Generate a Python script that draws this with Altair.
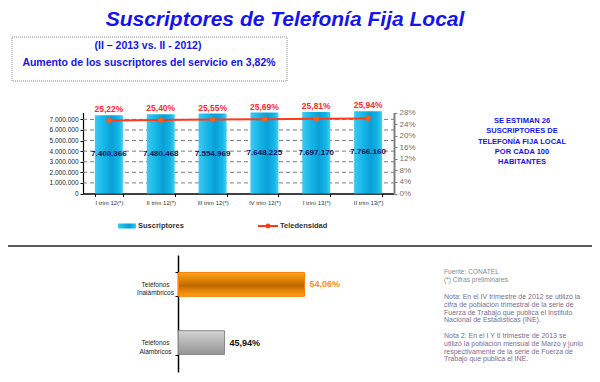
import altair as alt
import pandas as pd

# ---------------- data ----------------
title_text = "Suscriptores de Telefonía Fija Local"
box_lines = ["(II – 2013 vs. II - 2012)", "Aumento de los suscriptores del servicio en 3,82%"]

periods = ["I trim 12(*)", "II trim 12(*)", "III trim 12(*)", "IV trim 12(*)", "I trim 13(*)", "II trim 13(*)"]
subscribers = [7400366, 7480468, 7554969, 7648225, 7697170, 7766160]
teledensity = [25.22, 25.40, 25.55, 25.69, 25.81, 25.94]
left_ticks = [0, 1000000, 2000000, 3000000, 4000000, 5000000, 6000000, 7000000]
right_ticks = [0, 4, 8, 12, 16, 20, 24, 28]
legend_labels = ["Suscriptores", "Teledensidad"]

side_lines = ["SE ESTIMAN 26", "SUSCRIPTORES DE", "TELEFONÍA FIJA LOCAL", "POR CADA 100", "HABITANTES"]

mix_categories = ["Teléfonos Inalámbricos", "Teléfonos Alámbricos"]
mix_shares = [54.06, 45.94]

source_lines = ["Fuente: CONATEL", "(*) Cifras preliminares."]
note1_lines = [
    "Nota: En el IV trimestre de 2012 se utilizó la",
    "cifra de población trimestral de la serie de",
    "Fuerza de Trabajo que publica el Instituto",
    "Nacional de Estadísticas (INE).",
]
note2_lines = [
    "Nota 2: En el I Y II trimestre de 2013 se",
    "utilizó la población mensual de Marzo y junio",
    "respectivamente de la serie de Fuerza de",
    "Trabajo que publica el INE.",
]

# ---------------- layout (chart pixel coords; page = chart + 8) ----------------
W, H = 584, 366
X0, X1 = 75, 386
YB, YT = 185.5, 104.5
FONT = "Liberation Sans"
BLUE = "#1414f0"

df_top = pd.DataFrame({"period": periods, "subs": subscribers, "tele": teledensity})
df_mix = pd.DataFrame({"cat": mix_categories, "share": mix_shares})

xs = alt.Scale(domain=periods, range=[X0, X1], paddingInner=0.46, paddingOuter=0.23)
ys = alt.Scale(domain=[0, 7650000], range=[YB, YT])
yt = alt.Scale(domain=[0, 28], range=[YB, YT])

bar_grad = alt.LinearGradient(
    gradient="linear", x1=0, x2=1, y1=0, y2=0,
    stops=[
        alt.GradientStop(color="#3ccaf2", offset=0),
        alt.GradientStop(color="#12b4e6", offset=0.35),
        alt.GradientStop(color="#0a9fd6", offset=0.6),
        alt.GradientStop(color="#14b6e8", offset=0.85),
        alt.GradientStop(color="#42d0f6", offset=1),
    ],
)


def txt(s, x, y, **kw):
    base = dict(font=FONT)
    base.update(kw)
    return alt.Chart(pd.DataFrame({"t": [s]})).mark_text(**base).encode(
        text="t:N", x=alt.value(x), y=alt.value(y)
    )


def block(lines, x, y, **kw):
    base = dict(font=FONT, lineBreak="\n", align="left", baseline="middle")
    base.update(kw)
    return alt.Chart(pd.DataFrame({"t": ["\n".join(lines)]})).mark_text(**base).encode(
        text="t:N", x=alt.value(x), y=alt.value(y)
    )


layers = []

# title
layers.append(txt(title_text, 277, 17.5, fontSize=21, fontWeight="bold", fontStyle="italic",
                  color=BLUE, baseline="alphabetic"))

# dotted box
layers.append(
    alt.Chart(pd.DataFrame({"a": [0]})).mark_rect(fill="white", stroke="#888888", strokeWidth=1,
                                                 strokeDash=[1, 1]).encode(
        x=alt.value(4), x2=alt.value(279), y=alt.value(29), y2=alt.value(73)
    )
)
layers.append(txt(box_lines[0], 140, 38, fontSize=10.5, fontWeight="bold", color=BLUE, baseline="middle"))
layers.append(txt(box_lines[1], 141, 55, fontSize=10.5, fontWeight="bold", color=BLUE, baseline="middle"))

# gridlines
layers.append(
    alt.Chart(pd.DataFrame({"v": left_ticks[1:]})).mark_rule(color="#7a7a7a", strokeDash=[4, 3],
                                                            strokeWidth=1).encode(
        y=alt.Y("v:Q", scale=ys, axis=None), x=alt.value(X0), x2=alt.value(X1)
    )
)

# bars with axes
layers.append(
    alt.Chart(df_top).mark_bar(color=bar_grad).encode(
        x=alt.X("period:N", scale=xs, title=None,
                axis=alt.Axis(orient="bottom", offset=YB - H, labelAngle=0, labelFontSize=6,
                              labelColor="#333333", labelFont=FONT, tickBand="extent", tickSize=3,
                              tickColor="#000000", domainColor="#000000", domainWidth=1.5,
                              labelPadding=3, grid=False)),
        y=alt.Y("subs:Q", scale=ys, title=None,
                axis=alt.Axis(orient="left", offset=-X0, values=left_ticks,
                              labelExpr="replace(replace(format(datum.value, ','), ',', '.'), ',', '.')",
                              labelFontSize=6.5, labelColor="#222222", labelFont=FONT, tickSize=3,
                              tickColor="#000000", domainColor="#000000", domainWidth=1.2,
                              labelPadding=2, grid=False)),
    )
)

# subscriber value labels
layers.append(
    alt.Chart(df_top).transform_calculate(
        mid="datum.subs / 2",
        lab="replace(replace(format(datum.subs, ','), ',', '.'), ',', '.')",
    ).mark_text(font=FONT, fontSize=8, fontWeight="bold", color="#10105a", baseline="middle").encode(
        x=alt.X("period:N", scale=xs, axis=None),
        y=alt.Y("mid:Q", scale=ys, axis=None),
        text="lab:N",
    )
)

# teledensity line
layers.append(
    alt.Chart(df_top).mark_line(color="#ff3a1a", strokeWidth=2).encode(
        x=alt.X("period:N", scale=xs, axis=None),
        y=alt.Y("tele:Q", scale=yt, title=None,
                axis=alt.Axis(orient="right", offset=X1 - W, values=right_ticks,
                              labelExpr="datum.value + '%'", labelFontSize=8, labelColor="#707070",
                              labelFont=FONT, tickSize=3, tickColor="#808080", domainColor="#808080",
                              domainWidth=2, labelPadding=2, grid=False)),
    )
)
layers.append(
    alt.Chart(df_top).mark_point(filled=True, size=28, color="#ff5a1a", opacity=1).encode(
        x=alt.X("period:N", scale=xs, axis=None),
        y=alt.Y("tele:Q", scale=yt, axis=None),
    )
)
# teledensity labels above bars
layers.append(
    alt.Chart(df_top).transform_calculate(
        lab="replace(format(datum.tele, '.2f'), '.', ',') + '%'"
    ).mark_text(font=FONT, fontSize=8.5, fontWeight="bold", color="#ff2a2a", baseline="bottom", dy=-1).encode(
        x=alt.X("period:N", scale=xs, axis=None),
        y=alt.Y("subs:Q", scale=ys, axis=None),
        text="lab:N",
    )
)

# legend
layers.append(
    alt.Chart(pd.DataFrame({"a": [0]})).mark_rect(color=bar_grad).encode(
        x=alt.value(110), x2=alt.value(128), y=alt.value(215.5), y2=alt.value(220.5)
    )
)
layers.append(txt(legend_labels[0], 130, 218, fontSize=7.5, fontWeight="bold", color="#333333",
                  align="left", baseline="middle"))
layers.append(
    alt.Chart(pd.DataFrame({"a": [0]})).mark_rule(color="#ff3a1a", strokeWidth=2).encode(
        x=alt.value(250), x2=alt.value(270), y=alt.value(218)
    )
)
layers.append(
    alt.Chart(pd.DataFrame({"a": [0]})).mark_point(filled=True, size=24, color="#ff3a1a", opacity=1).encode(
        x=alt.value(260), y=alt.value(218)
    )
)
layers.append(txt(legend_labels[1], 272, 218, fontSize=7.5, fontWeight="bold", color="#333333",
                  align="left", baseline="middle"))

# side text
layers.append(block(side_lines, 514, 109, fontSize=7.5, fontWeight="bold", color=BLUE,
                    lineHeight=10.3, baseline="top", align="center"))

# divider
layers.append(
    alt.Chart(pd.DataFrame({"a": [0]})).mark_rule(color="#222222", strokeWidth=1.5).encode(
        x=alt.value(0), x2=alt.value(W), y=alt.value(238)
    )
)

# bottom bar chart
xb = alt.Scale(domain=[41.27, 60], range=[170.5, 355])
yb = alt.Scale(domain=mix_categories, range=[247, 364], paddingInner=0.59, paddingOuter=0.3)

orange_grad = alt.LinearGradient(
    gradient="linear", x1=0, x2=0, y1=0, y2=1,
    stops=[
        alt.GradientStop(color="#ffa628", offset=0),
        alt.GradientStop(color="#e08400", offset=0.3),
        alt.GradientStop(color="#c06800", offset=0.55),
        alt.GradientStop(color="#e88a08", offset=0.8),
        alt.GradientStop(color="#ff9c18", offset=1),
    ],
)
gray_grad = alt.LinearGradient(
    gradient="linear", x1=0, x2=0, y1=0, y2=1,
    stops=[
        alt.GradientStop(color="#d4d4d4", offset=0),
        alt.GradientStop(color="#b4b4b4", offset=0.5),
        alt.GradientStop(color="#939393", offset=1),
    ],
)

layers.append(
    alt.Chart(df_mix).transform_filter(alt.datum.cat == mix_categories[0]).mark_bar(
        color=orange_grad, stroke="#ff8000", strokeWidth=1
    ).encode(
        y=alt.Y("cat:N", scale=yb, title=None,
                axis=alt.Axis(orient="left", offset=-170, tickBand="extent", tickSize=3,
                              labelExpr="split(datum.label, ' ')", labelAlign="center",
                              labelBaseline="middle", labelPadding=20, labelFontSize=6.5,
                              labelLineHeight=8.5, labelColor="#222222", labelFont=FONT,
                              domainColor="#000000", domainWidth=1.5, tickColor="#000000")),
        x=alt.X("share:Q", scale=xb, axis=None),
        x2=alt.X2(datum=41.27),
    )
)
layers.append(
    alt.Chart(df_mix).transform_filter(alt.datum.cat == mix_categories[1]).mark_bar(
        color=gray_grad, stroke="#8a8a8a", strokeWidth=1
    ).encode(
        y=alt.Y("cat:N", scale=yb, axis=None),
        x=alt.X("share:Q", scale=xb, axis=None),
        x2=alt.X2(datum=41.27),
    )
)
layers.append(
    alt.Chart(df_mix).transform_calculate(
        lab="replace(format(datum.share, '.2f'), '.', ',') + '%'"
    ).mark_text(font=FONT, fontSize=9, fontWeight="bold", align="left", baseline="middle", dx=5).encode(
        y=alt.Y("cat:N", scale=yb, axis=None),
        x=alt.X("share:Q", scale=xb, axis=None),
        text="lab:N",
        color=alt.Color("cat:N", scale=alt.Scale(domain=mix_categories, range=["#ff8c1a", "#111111"]),
                        legend=None),
    )
)

# notes
layers.append(block(source_lines, 436, 264, fontSize=6.6, color="#8a8a8a", lineHeight=7.6))
layers.append(block(note1_lines, 436, 289, fontSize=7.0, color="#7c6c90", lineHeight=7.8))
layers.append(block(note2_lines, 436, 328, fontSize=7.0, color="#7c6c90", lineHeight=7.8))

chart = alt.layer(*layers).resolve_scale(
    x="independent", y="independent", color="independent"
).properties(
    width=W, height=H, autosize=alt.AutoSizeParams(type="none"), padding=0,
    background="white",
).configure_view(stroke=None)

chart.save("out.html", embed_options={"renderer": "svg", "actions": False})
